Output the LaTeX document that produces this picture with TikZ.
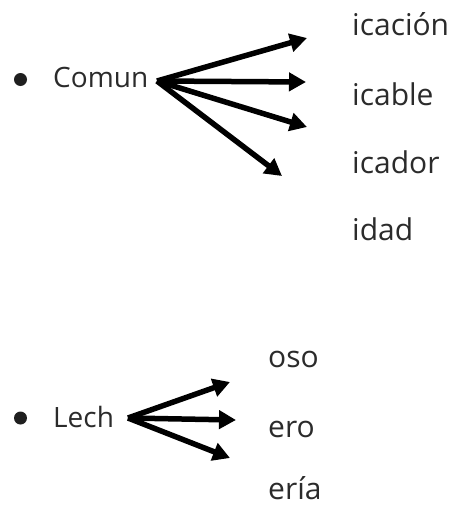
\documentclass[tikz,border=0pt]{standalone}
\usepackage{fontspec}
\setmainfont{Open Sans}
\usetikzlibrary{arrows.meta}
\definecolor{txt}{HTML}{2B2B2B}
\tikzset{
  lbl/.style={anchor=base west, inner sep=0pt, text=txt, font=\fontsize{30}{34}\selectfont},
  stem/.style={anchor=base west, inner sep=0pt, text=txt, font=\fontsize{28}{32}\selectfont},
  dot/.style={circle, fill=black!88, inner sep=0pt, minimum size=13pt},
  arr/.style={line width=5.5pt, -{Triangle[length=17pt,width=18pt]}}
}
\begin{document}
\begin{tikzpicture}[x=1pt,y=-1pt]
\useasboundingbox (0,0) rectangle (452,506);
% group 1
\node[dot] (b1) at (20.5,79.5) {};
\node[stem] (comun) at (53,87) {Comun};
\coordinate (o1) at (157,81);
\coordinate (e11) at (307,38);
\coordinate (e12) at (306,82);
\coordinate (e13) at (307,127);
\coordinate (e14) at (282,176);
\draw[arr] (o1) -- (e11);
\draw[arr] (o1) -- (e12);
\draw[arr] (o1) -- (e13);
\draw[arr] (o1) -- (e14);
\node[lbl] (l11) at (352,35) {icación};
\node[lbl] (l12) at (352,105) {icable};
\node[lbl] (l13) at (352,173) {icador};
\node[lbl] (l14) at (352,240) {idad};
% group 2
\node[dot] (b2) at (20.5,418) {};
\node[stem] (lech) at (53,427) {Lech};
\coordinate (o2) at (128,418);
\coordinate (e21) at (230,382);
\coordinate (e22) at (236,420);
\coordinate (e23) at (230,458);
\draw[arr] (o2) -- (e21);
\draw[arr] (o2) -- (e22);
\draw[arr] (o2) -- (e23);
\node[lbl] (l21) at (268,367) {oso};
\node[lbl] (l22) at (268,437) {ero};
\node[lbl] (l23) at (268,499) {ería};
\end{tikzpicture}
\end{document}
